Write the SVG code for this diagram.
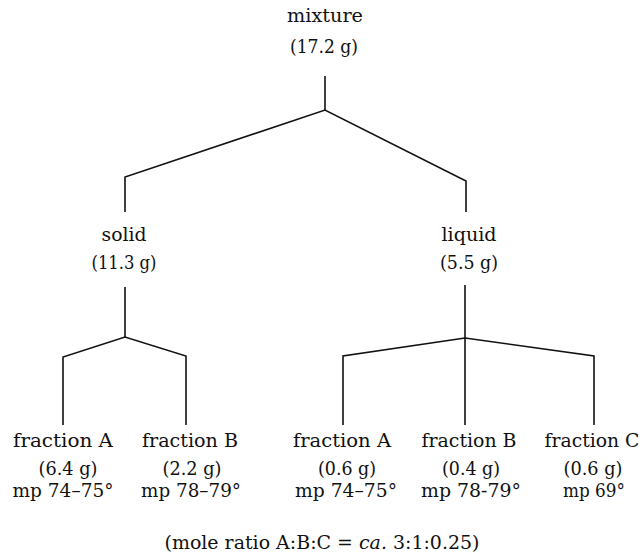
<svg xmlns="http://www.w3.org/2000/svg" width="642" height="559" viewBox="0 0 642 559">
<style>
text { font-family: "DejaVu Serif", "Liberation Serif", serif; font-size: 19px; fill: #111; text-anchor: middle; }
.c { stroke: #111; stroke-width: 1.6; fill: none; stroke-linejoin: miter; }
</style>
<rect width="642" height="559" fill="#fff"/>
<g id="connectors">
<polyline class="c" points="325,76 325,110"/>
<polyline class="c" points="125,212 125,177 325,110 466,181 466,212"/>
<polyline class="c" points="125,287 125,337"/>
<polyline class="c" points="63,425 63,357 125,337 186,356 186,425"/>
<polyline class="c" points="465,285 465,425"/>
<polyline class="c" points="343,425 343,356 465,338 594,356 594,425"/>
</g>
<g id="mixture">
<text x="325" y="22" textLength="76" lengthAdjust="spacingAndGlyphs">mixture</text>
<text x="324" y="53" textLength="68" lengthAdjust="spacingAndGlyphs">(17.2 g)</text>
</g>
<g id="solid">
<text x="124" y="241" textLength="45" lengthAdjust="spacingAndGlyphs">solid</text>
<text x="124" y="269" textLength="65" lengthAdjust="spacingAndGlyphs">(11.3 g)</text>
</g>
<g id="liquid">
<text x="469" y="241" textLength="55" lengthAdjust="spacingAndGlyphs">liquid</text>
<text x="469" y="269" textLength="58" lengthAdjust="spacingAndGlyphs">(5.5 g)</text>
</g>
<g id="solid-fraction-A">
<text x="63" y="447" textLength="100" lengthAdjust="spacingAndGlyphs">fraction A</text>
<text x="68" y="475" textLength="59" lengthAdjust="spacingAndGlyphs">(6.4 g)</text>
<text x="63" y="497" textLength="101" lengthAdjust="spacingAndGlyphs">mp 74–75°</text>
</g>
<g id="solid-fraction-B">
<text x="190" y="447" textLength="96" lengthAdjust="spacingAndGlyphs">fraction B</text>
<text x="192" y="475" textLength="59" lengthAdjust="spacingAndGlyphs">(2.2 g)</text>
<text x="191" y="497" textLength="100" lengthAdjust="spacingAndGlyphs">mp 78–79°</text>
</g>
<g id="liquid-fraction-A">
<text x="342" y="447" textLength="98" lengthAdjust="spacingAndGlyphs">fraction A</text>
<text x="347" y="475" textLength="58" lengthAdjust="spacingAndGlyphs">(0.6 g)</text>
<text x="346" y="497" textLength="102" lengthAdjust="spacingAndGlyphs">mp 74–75°</text>
</g>
<g id="liquid-fraction-B">
<text x="469" y="447" textLength="95" lengthAdjust="spacingAndGlyphs">fraction B</text>
<text x="471" y="475" textLength="58" lengthAdjust="spacingAndGlyphs">(0.4 g)</text>
<text x="471" y="497" textLength="100" lengthAdjust="spacingAndGlyphs">mp 78-79°</text>
</g>
<g id="liquid-fraction-C">
<text x="592" y="447" textLength="95" lengthAdjust="spacingAndGlyphs">fraction C</text>
<text x="593" y="475" textLength="59" lengthAdjust="spacingAndGlyphs">(0.6 g)</text>
<text x="594" y="497" textLength="62" lengthAdjust="spacingAndGlyphs">mp 69°</text>
</g>
<g id="note">
<text x="322" y="549" textLength="315" lengthAdjust="spacingAndGlyphs">(mole ratio A:B:C = <tspan font-style="italic">ca.</tspan> 3:1:0.25)</text>
</g>
</svg>
